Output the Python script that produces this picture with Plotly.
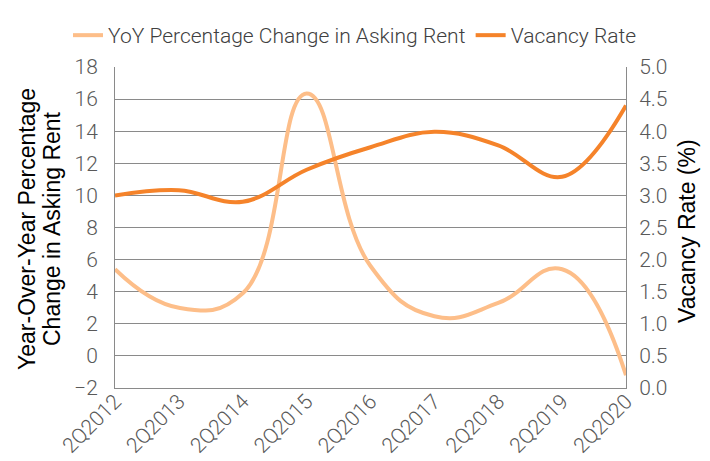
import plotly.graph_objects as go

categories = ["2Q2012", "2Q2013", "2Q2014", "2Q2015", "2Q2016", "2Q2017", "2Q2018", "2Q2019", "2Q2020"]
yoy_rent_change = [5.4, 3.0, 3.9, 16.35, 5.6, 2.47, 3.3, 5.4, -1.2]
vacancy_rate = [3.0, 3.08, 2.9, 3.4, 3.75, 3.99, 3.78, 3.29, 4.4]

left_title_lines = ["Year-Over-Year Percentage", "Change in Asking Rent"]
right_title = "Vacancy Rate (%)"

FONT = "Roboto"
TITLE_FONT = "Liberation Sans"
GRID = "#8a8a8a"

fig = go.Figure()
fig.add_trace(go.Scatter(
    x=categories, y=yoy_rent_change, name="YoY Percentage Change in Asking Rent",
    mode="lines", line=dict(color="#FDBE89", width=4, shape="spline", smoothing=1.3),
    yaxis="y"))
fig.add_trace(go.Scatter(
    x=categories, y=vacancy_rate, name="Vacancy Rate",
    mode="lines", line=dict(color="#F5832A", width=4, shape="spline", smoothing=1.1),
    yaxis="y2"))

L, R, T, B = 107, 92, 59, 81
W, H = 710, 461
pw, ph = W - L - R, H - T - B

def px_x(x):
    return (x - L) / pw

def px_y(y):
    return (H - B - y) / ph

fig.update_layout(
    width=W, height=H,
    margin=dict(l=L, r=R, t=T, b=B, autoexpand=False),
    paper_bgcolor="white", plot_bgcolor="white",
    font=dict(family=FONT, size=21, color="#595959", weight=300),
    showlegend=True,
    legend=dict(orientation="h", xref="paper", yref="paper",
                x=px_x(60), xanchor="left", y=px_y(48), yanchor="bottom",
                font=dict(size=21, color="#404040", weight=300),
                tracegroupgap=0),
    xaxis=dict(type="category", range=[0, 8], tickangle=-45, showgrid=False,
               showline=True, linecolor=GRID, linewidth=1, automargin=False,
               ticks="", ticklabelstandoff=-8, tickfont=dict(size=21, color="#595959")),
    yaxis=dict(range=[-2, 18], dtick=2, showgrid=True, gridcolor=GRID, gridwidth=1,
               zeroline=False, showline=True, linecolor=GRID, linewidth=1,
               ticks="", ticklabelstandoff=12, automargin=False),
    yaxis2=dict(range=[0, 5], dtick=0.5, tickformat=".1f", overlaying="y", side="right",
                showgrid=False, zeroline=False, showline=True, linecolor=GRID, linewidth=1,
                ticks="", ticklabelstandoff=8, automargin=False),
)

title_font = dict(family=TITLE_FONT, size=23, color="#000000")
for line_text, cx in zip(left_title_lines, [19, 44]):
    fig.add_annotation(text=line_text, textangle=-90, xref="paper", yref="paper",
                       x=px_x(cx), y=px_y(221), xanchor="center", yanchor="middle",
                       showarrow=False, font=title_font)
fig.add_annotation(text=right_title, textangle=-90, xref="paper", yref="paper",
                   x=px_x(679), y=px_y(223), xanchor="center", yanchor="middle",
                   showarrow=False, font=title_font)

fig.write_html("out.html")
